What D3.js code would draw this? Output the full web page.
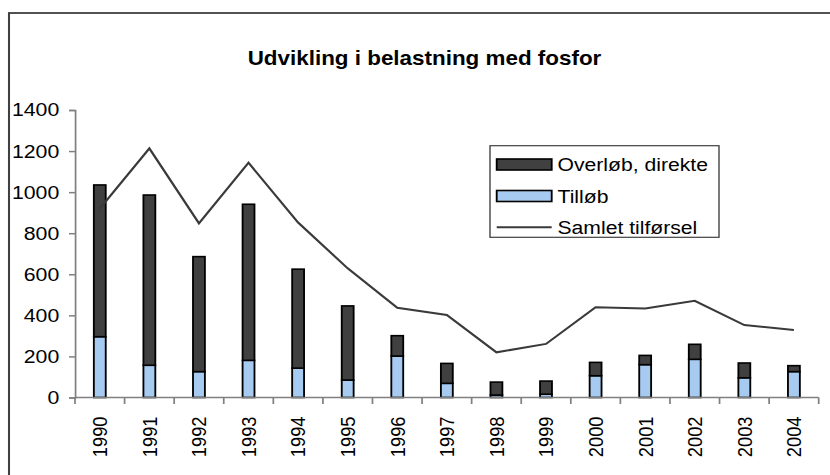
<!DOCTYPE html>
<html>
<head>
    <meta charset="utf-8">
    <script src="https://cdn.jsdelivr.net/npm/d3@7"></script>
    <style>
        body { margin: 0; background: #fff; }
        svg { display: block; }
        text { font-family: Arial, "Liberation Sans", sans-serif; fill: #000; }
    </style>
</head>
<body>
<script>
    "use strict";
    /* chart values */
    var years = ["1990","1991","1992","1993","1994","1995","1996","1997","1998","1999","2000","2001","2002","2003","2004"];
    var tillob = [296, 157, 126, 181, 143, 85, 202, 69, 12, 16, 106, 160, 186, 96, 126];
    var overlob = [739, 829, 560, 760, 482, 361, 99, 97, 63, 64, 65, 45, 73, 72, 29];
    var samlet = [920, 1213, 848, 1143, 852, 629, 437, 402, 220, 261, 439, 434, 471, 353, 329];
    var yTicks = [0, 200, 400, 600, 800, 1000, 1200, 1400];
    var seriesNames = ["Overløb, direkte", "Tilløb", "Samlet tilførsel"];

    /* the original picture is stretched sideways, so draw in a narrower box and stretch it */
    var stretch = 1.15;
    var W = 830, H = 475;
    var vw = W / stretch;
    var plotLeft = 75 / stretch, plotRight = 818.7 / stretch;
    var plotTop = 110, plotBottom = 397.5;
    var darkCol = "#404040", blueCol = "#a6caf0", axisCol = "#808080";

    var svg = d3.select("body").append("svg")
        .attr("width", W).attr("height", H)
        .attr("viewBox", "0 0 " + vw + " " + H)
        .attr("preserveAspectRatio", "none");

    // outer frame, runs off the right and bottom
    svg.append("rect")
        .attr("x", 9 / stretch).attr("y", 13)
        .attr("width", vw + 20).attr("height", H + 20)
        .attr("fill", "#fff").attr("stroke", "#404040").attr("stroke-width", 1.8);

    svg.append("text")
        .attr("x", 424.5 / stretch).attr("y", 65.5)
        .attr("text-anchor", "middle")
        .style("font-size", "19.5px").style("font-weight", "bold")
        .text("Udvikling i belastning med fosfor");

    var x = d3.scaleBand().domain(years).range([plotLeft, plotRight]).padding(0);
    var y = d3.scaleLinear().domain([0, 1400]).range([plotBottom, plotTop]);
    var barW = x.bandwidth() * 0.24;

    // y axis
    var yAxis = svg.append("g").attr("transform", "translate(" + plotLeft + ",0)")
        .call(d3.axisLeft(y).tickValues(yTicks).tickSize(5.2).tickPadding(8.5).tickFormat(d3.format("d")));
    yAxis.select(".domain").attr("stroke", axisCol).attr("stroke-width", 1.5);
    yAxis.selectAll(".tick line").attr("stroke", axisCol).attr("stroke-width", 1.5);
    yAxis.selectAll("text").style("font-size", "18.5px").attr("fill", "#000");
    yAxis.attr("font-family", null).attr("font-size", null);

    // stacked bars
    var rows = years.map(function(yr, i) { return {year: yr, tillob: tillob[i], overlob: overlob[i]}; });
    var stacked = d3.stack().keys(["tillob", "overlob"])(rows);
    var fills = {tillob: blueCol, overlob: darkCol};

    svg.selectAll("g.layer").data(stacked).enter().append("g")
        .attr("class", "layer")
        .attr("fill", function(d) { return fills[d.key]; })
        .selectAll("rect").data(function(d) { return d; }).enter().append("rect")
        .attr("x", function(d) { return x(d.data.year) + x.bandwidth() / 2 - barW / 2; })
        .attr("y", function(d) { return y(d[1]); })
        .attr("width", barW)
        .attr("height", function(d) { return y(d[0]) - y(d[1]); })
        .attr("stroke", "#000").attr("stroke-width", 1.6);

    // x axis, ticks between categories
    var xAxisG = svg.append("g").attr("transform", "translate(0," + plotBottom + ")");
    xAxisG.append("line").attr("x1", plotLeft).attr("x2", plotRight).attr("stroke", axisCol).attr("stroke-width", 1.5);
    var edges = years.map(function(d) { return x(d); }).concat([plotRight]);
    xAxisG.selectAll("line.tk").data(edges).enter().append("line")
        .attr("class", "tk")
        .attr("x1", function(d) { return d; }).attr("x2", function(d) { return d; })
        .attr("y1", 0).attr("y2", 6.5)
        .attr("stroke", axisCol).attr("stroke-width", 1.5);
    xAxisG.selectAll("text").data(years).enter().append("text")
        .attr("transform", function(d) { return "translate(" + (x(d) + x.bandwidth() / 2) + ",19) rotate(-90)"; })
        .attr("text-anchor", "end")
        .attr("dy", "0.35em")
        .style("font-size", "18.3px")
        .text(function(d) { return d; });

    // total line
    var line = d3.line()
        .x(function(d, i) { return x(years[i]) + x.bandwidth() / 2; })
        .y(function(d) { return y(d); });
    svg.append("path").datum(samlet)
        .attr("d", line)
        .attr("fill", "none").attr("stroke", "#3a3a3a").attr("stroke-width", 2);

    // legend
    var lg = svg.append("g");
    lg.append("rect")
        .attr("x", 490 / stretch).attr("y", 145.7)
        .attr("width", (719 - 490) / stretch).attr("height", 237.3 - 145.7)
        .attr("fill", "#fff").attr("stroke", "#404040").attr("stroke-width", 1.2);
    var rowY = [164.5, 196, 227.3];
    var sx0 = 496.7 / stretch, sx1 = 551.7 / stretch;
    lg.append("rect").attr("x", sx0).attr("y", rowY[0] - 5.5).attr("width", sx1 - sx0).attr("height", 11)
        .attr("fill", darkCol).attr("stroke", "#000").attr("stroke-width", 1.6);
    lg.append("rect").attr("x", sx0).attr("y", rowY[1] - 5.5).attr("width", sx1 - sx0).attr("height", 11)
        .attr("fill", blueCol).attr("stroke", "#000").attr("stroke-width", 1.6);
    lg.append("line").attr("x1", sx0).attr("x2", sx1).attr("y1", rowY[2]).attr("y2", rowY[2])
        .attr("stroke", "#3a3a3a").attr("stroke-width", 2);
    lg.selectAll("text.lt").data(seriesNames).enter().append("text")
        .attr("class", "lt")
        .attr("x", 557.5 / stretch)
        .attr("y", function(d, i) { return rowY[i]; })
        .attr("dy", "0.36em")
        .style("font-size", "18.4px")
        .text(function(d) { return d; });
</script>
</body>
</html>
